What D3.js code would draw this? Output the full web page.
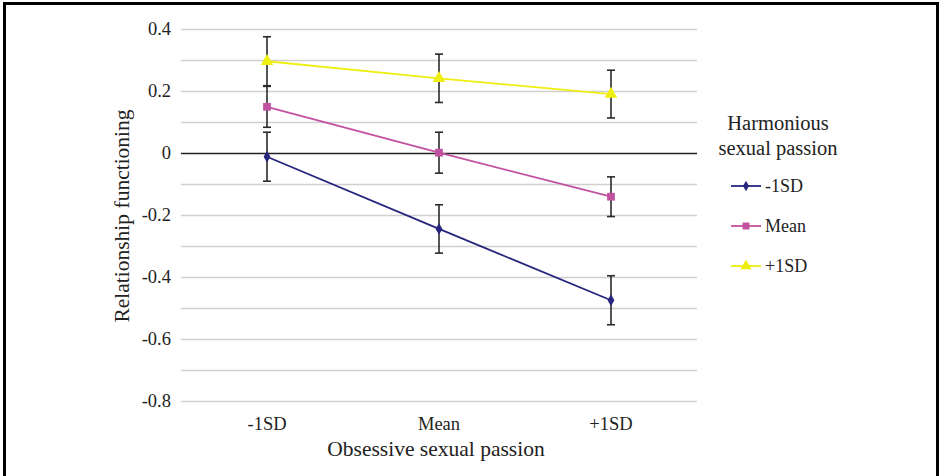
<!DOCTYPE html>
<html><head><meta charset="utf-8">
<script src="https://cdn.jsdelivr.net/npm/d3@7"></script>
<style>body{margin:0;background:#fff}svg text{font-family:"Liberation Serif","Times New Roman","DejaVu Serif",serif;fill:#222}</style>
</head><body><svg id="c" width="940" height="476"></svg>
<script>
const categories = ["-1SD", "Mean", "+1SD"];
const seriesNames = ["-1SD", "Mean", "+1SD"];
const valuesLow = [-0.012, -0.245, -0.475];
const valuesMean = [0.149, 0.001, -0.141];
const valuesHigh = [0.296, 0.241, 0.19];
const errLow = [0.079, 0.078, 0.079];
const errMean = [0.066, 0.066, 0.064];
const errHigh = [0.079, 0.078, 0.077];
const yTicks = [0.4, 0.2, 0, -0.2, -0.4, -0.6, -0.8];
const colors = ["#26267F", "#C2519F", "#EEEE11"];
const symbols = [d3.symbolDiamond, d3.symbolSquare, d3.symbolTriangle];

const series = [
  {name: seriesNames[0], vals: valuesLow, err: errLow},
  {name: seriesNames[1], vals: valuesMean, err: errMean},
  {name: seriesNames[2], vals: valuesHigh, err: errHigh}
];

const svg = d3.select("#c");
svg.append("rect").attr("x", 4.5).attr("y", 3.5).attr("width", 933).attr("height", 480)
  .attr("fill", "none").attr("stroke", "#000").attr("stroke-width", 3);

const x = d3.scaleBand().domain(categories).range([181, 697]);
const y = d3.scaleLinear().domain([-0.8, 0.4]).range([401, 29]);

// gridlines every 0.1
const grid = d3.range(-8, 5).map(i => i / 10);
svg.append("g").selectAll("line").data(grid).join("line")
  .attr("x1", 181).attr("x2", 697)
  .attr("y1", d => Math.round(y(d)) + 0.5).attr("y2", d => Math.round(y(d)) + 0.5)
  .attr("stroke", d => Math.abs(d) < 1e-9 ? "#222" : "#cfcfcf")
  .attr("stroke-width", d => Math.abs(d) < 1e-9 ? 1.3 : 1.6);

// y tick labels
svg.append("g").selectAll("text").data(yTicks).join("text")
  .attr("x", 171).attr("y", d => y(d)).attr("dy", "0.35em")
  .attr("text-anchor", "end").attr("font-size", 18.5)
  .text(d => d3.format("")(d).replace("−", "-"));

// x tick labels
svg.append("g").selectAll("text").data(categories).join("text")
  .attr("x", d => x(d) + x.bandwidth() / 2).attr("y", 430)
  .attr("text-anchor", "middle").attr("font-size", 18.5).text(d => d);

// axis titles
svg.append("text").attr("x", 436).attr("y", 456).attr("text-anchor", "middle")
  .attr("font-size", 21.5).text("Obsessive sexual passion");
svg.append("text").attr("transform", "translate(129,216) rotate(-90)")
  .attr("text-anchor", "middle").attr("font-size", 21.5).text("Relationship functioning");

const cx = d => x(d) + x.bandwidth() / 2;

// lines
series.forEach((s, i) => {
  const line = d3.line().x((v, j) => cx(categories[j])).y(v => y(v));
  svg.append("path").attr("d", line(s.vals)).attr("fill", "none")
    .attr("stroke", colors[i]).attr("stroke-width", 1.8);
});

// error bars
series.forEach((s, i) => {
  const g = svg.append("g").attr("stroke", "#2a2a2a").attr("stroke-width", 1.6);
  s.vals.forEach((v, j) => {
    const px = cx(categories[j]);
    const top = y(v + s.err[j]), bot = y(v - s.err[j]);
    g.append("line").attr("x1", px).attr("x2", px).attr("y1", top).attr("y2", bot);
    g.append("line").attr("x1", px - 4).attr("x2", px + 4).attr("y1", top).attr("y2", top);
    g.append("line").attr("x1", px - 4).attr("x2", px + 4).attr("y1", bot).attr("y2", bot);
  });
});

// markers
const sizes = [40, 60, 70];
series.forEach((s, i) => {
  svg.append("g").selectAll("path").data(s.vals).join("path")
    .attr("transform", (v, j) => `translate(${cx(categories[j])},${y(v)})`)
    .attr("d", d3.symbol().type(symbols[i]).size(sizes[i]))
    .attr("fill", colors[i]);
});

// legend
svg.append("text").attr("x", 778).attr("y", 130).attr("text-anchor", "middle")
  .attr("font-size", 20.5).text("Harmonious");
svg.append("text").attr("x", 778).attr("y", 155).attr("text-anchor", "middle")
  .attr("font-size", 20.5).text("sexual passion");
const ly = [186, 226, 266];
series.forEach((s, i) => {
  const g = svg.append("g").attr("transform", `translate(0,${ly[i]})`);
  g.append("line").attr("x1", 731).attr("x2", 761).attr("stroke", colors[i]).attr("stroke-width", 1.8);
  g.append("path").attr("transform", "translate(746,0)")
    .attr("d", d3.symbol().type(symbols[i]).size(sizes[i] * 0.8)).attr("fill", colors[i]);
  g.append("text").attr("x", 765).attr("dy", "0.35em").attr("font-size", 18).text(s.name);
});
</script></body></html>
